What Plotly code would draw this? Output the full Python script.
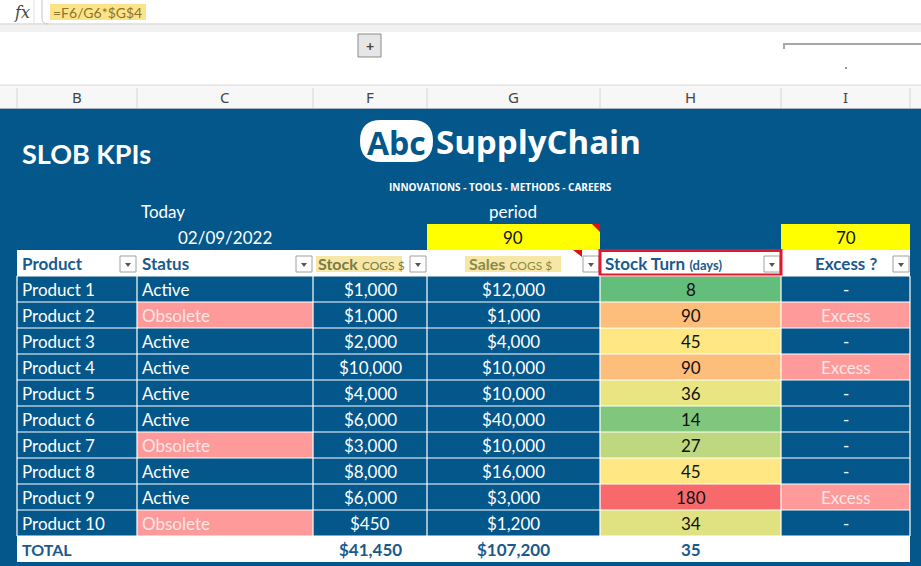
import plotly.graph_objects as go
import math

# ---------------- data ----------------
products = ["Product 1", "Product 2", "Product 3", "Product 4", "Product 5",
            "Product 6", "Product 7", "Product 8", "Product 9", "Product 10"]
status = ["Active", "Obsolete", "Active", "Active", "Active",
          "Active", "Obsolete", "Active", "Active", "Obsolete"]
stock = [1000, 1000, 2000, 10000, 4000, 6000, 3000, 8000, 6000, 450]
sales = [12000, 1000, 4000, 10000, 10000, 40000, 10000, 16000, 3000, 1200]
period = 90
excess_limit = 70
today = "02/09/2022"
col_letters = ["B", "C", "F", "G", "H", "I"]
formula = "=F6/G6*$G$4"

def rnd(v):
    return int(math.floor(v + 0.5))

turn = [rnd(s / q * period) for s, q in zip(stock, sales)]
excess = ["Excess" if t > excess_limit else "-" for t in turn]
tot_stock = sum(stock)
tot_sales = sum(sales)
tot_turn = rnd(tot_stock / tot_sales * period)

# ---------------- style ----------------
BLUE = "#04578B"
HEAD = "#1B5A8C"
PINK = "#FE9A9A"
PINK_TXT = "#FFE6E6"
FONT = "Lato"
W, H = 921, 566
cols = [17, 137, 313, 427, 600, 781, 910]
row_top = 276
row_h = 26

def hexrgb(h):
    h = h.lstrip("#")
    return [int(h[i:i + 2], 16) for i in (0, 2, 4)]

def mix(c1, c2, t):
    a, b = hexrgb(c1), hexrgb(c2)
    return "#%02X%02X%02X" % tuple(int(round(a[i] + (b[i] - a[i]) * t)) for i in range(3))

srt = sorted(turn)
n = len(srt)
pos = 0.5 * (n - 1)
mid = srt[int(pos)] + (srt[int(pos) + 1] - srt[int(pos)]) * (pos - int(pos))
lo, hi = min(turn), max(turn)
GREEN, YEL, RED = "#63BE7B", "#FFEB84", "#F8696B"

def scale(v):
    if v <= mid:
        return mix(GREEN, YEL, (v - lo) / (mid - lo))
    return mix(YEL, RED, (v - mid) / (hi - mid))

shapes = []
ann = []

def rect(x0, y0, x1, y1, fill, line=None, lw=0, layer="below"):
    shapes.append(dict(type="rect", xref="x", yref="y", x0=x0, y0=y0, x1=x1, y1=y1,
                       fillcolor=fill, line=dict(color=line or fill, width=lw), layer=layer))

def line(x0, y0, x1, y1, color, w=1):
    shapes.append(dict(type="line", xref="x", yref="y", x0=x0, y0=y0, x1=x1, y1=y1,
                       line=dict(color=color, width=w), layer="above"))

def text(x, y, s, size=17, color="white", anchor="left", bold=False, family=FONT):
    ann.append(dict(x=x, y=y, xref="x", yref="y", text=("<b>%s</b>" % s) if bold else s,
                    showarrow=False, xanchor=anchor, yanchor="middle",
                    font=dict(family=family, size=size, color=color)))

# ---------------- Excel chrome ----------------
rect(0, 0, W, 85, "white")
line(0, 24, W, 24, "#C8C8C8", 1)
rect(0, 25, W, 32, "#F1F1F1")
shapes.append(dict(type="path", xref="x", yref="y",
                   path="M 42 0 L 42 18 Q 42 24 48 24", line=dict(color="#C8C8C8", width=1),
                   layer="above"))
line(34, 0, 34, 24, "#E0E0E0", 1)
text(22, 12, "<i>fx</i>", size=16, color="#444", anchor="center", family="DejaVu Serif")
rect(50, 4, 146, 20, "#FCE38A")
text(51, 12, formula, size=14, color="#8A7628")
# "+" button
rect(358, 34, 381, 57, "#E6E6E6", "#8A8A8A", 1)
text(369.5, 45.5, "<b>+</b>", size=14, color="#444", anchor="center")
# outline bracket
shapes.append(dict(type="path", xref="x", yref="y", path="M 784 49 L 784 44 L 921 44",
                   line=dict(color="#A6A6A6", width=2), layer="above"))
rect(845, 67, 847, 69, "#9A9A9A")
# column letters header
rect(0, 85, W, 109, "#F7F7F7")
line(0, 85, W, 85, "#D8D8D8", 1)
line(0, 108.5, W, 108.5, "#A9B3C0", 1)
for c in cols:
    line(c, 88, c, 108, "#D6D6D6", 1)
for i, L in enumerate(col_letters):
    text((cols[i] + cols[i + 1]) / 2, 97, L, size=15, color="#444", anchor="center",
         family="Noto Sans")

# ---------------- blue sheet ----------------
rect(0, 109, W, H, BLUE)
text(20, 153, "SLOB KPIs", size=27, bold=True)

# logo
shapes.append(dict(type="path", xref="x", yref="y",
                   path="M 381 120 L 412 120 Q 433 120 433 141 Q 433 162 412 162 "
                        "L 381 162 Q 360 162 360 141 Q 360 120 381 120 Z",
                   fillcolor="white", line=dict(color="white", width=0), layer="below"))
text(396.5, 142, "Abc", size=32, color=BLUE, anchor="center", bold=True, family="Open Sans")
text(434, 141, "SupplyChain", size=33, bold=True, family="Open Sans")
text(500, 187, "INNOVATIONS - TOOLS - METHODS - CAREERS", size=10, anchor="center",
     bold=True, family="Open Sans")

text(163, 211, "Today", size=17, anchor="center")
text(225, 237, today, size=17, anchor="center")
text(513, 211, "period", size=17, anchor="center")
rect(427, 224, 600, 250, "#FFFF00")
shapes.append(dict(type="path", xref="x", yref="y", path="M 592 224 L 600 224 L 600 232 Z",
                   fillcolor="#E01010", line=dict(width=0), layer="above"))
text(513, 237, str(period), size=17, color="#111", anchor="center")
rect(781, 224, 910, 250, "#FFFF00")
text(846, 237, str(excess_limit), size=17, color="#111", anchor="center")

# header row
rect(cols[0], 250, cols[-1], 276, "white")
rect(316, 256, 402, 272, "#F6E7A6")
rect(465, 256, 561, 272, "#F6E7A6")
text(20, 263, "Product", bold=True, color=HEAD)
text(140, 263, "Status", bold=True, color=HEAD)
text(316, 263, "<b>Stock</b> <span style='font-size:12px'>COGS $</span>", size=16,
     color="#7A7A46")
text(467, 263, "<b>Sales</b> <span style='font-size:12px'>COGS $</span>", size=16,
     color="#8A8A4A")
text(603, 263, "<b>Stock Turn</b> <span style='font-size:13px'><b>(days)</b></span>",
     color=HEAD)
text(846, 263, "Excess ?", bold=True, color=HEAD, anchor="center")
shapes.append(dict(type="path", xref="x", yref="y", path="M 573 250 L 582 250 L 582 257 Z",
                   fillcolor="#E01010", line=dict(width=0), layer="above"))
for c in cols[1:]:
    x1 = c - 1
    x0 = x1 - 16
    rect(x0, 256, x1, 272, "white", "#A0A0A0", 1, layer="above")
    shapes.append(dict(type="path", xref="x", yref="y",
                       path="M %g 263 L %g 263 L %g 267 Z" % (x0 + 5, x0 + 11, x0 + 8),
                       fillcolor="#555", line=dict(width=0), layer="above"))
shapes.append(dict(type="rect", xref="x", yref="y", x0=600, y0=250.5, x1=781, y1=275,
                   line=dict(color="#E0192F", width=3), fillcolor="rgba(0,0,0,0)",
                   layer="above"))

# data rows
for i in range(len(products)):
    y0 = row_top + i * row_h
    y1 = y0 + row_h
    yc = (y0 + y1) / 2
    if status[i] == "Obsolete":
        rect(cols[1], y0, cols[2], y1, PINK)
    rect(cols[4], y0, cols[5], y1, scale(turn[i]))
    if excess[i] == "Excess":
        rect(cols[5], y0, cols[6], y1, PINK)
    text(20, yc, products[i])
    text(140, yc, status[i], color=PINK_TXT if status[i] == "Obsolete" else "white")
    text((cols[2] + cols[3]) / 2, yc, "${:,}".format(stock[i]), anchor="center")
    text((cols[3] + cols[4]) / 2, yc, "${:,}".format(sales[i]), anchor="center")
    text((cols[4] + cols[5]) / 2, yc, str(turn[i]), color="#111", anchor="center")
    text((cols[5] + cols[6]) / 2, yc, excess[i],
         color=PINK_TXT if excess[i] == "Excess" else "white", anchor="center")

# grid lines
y_end = row_top + len(products) * row_h
for i in range(len(products) + 1):
    y = row_top + i * row_h
    line(cols[0], y, cols[-1], y, "white", 1.2)
for c in cols:
    line(c, row_top, c, y_end, "white", 1.2)

# total row
rect(cols[0], y_end, cols[-1], y_end + row_h, "white")
yc = y_end + row_h / 2
text(20, yc, "TOTAL", size=16, bold=True, color=HEAD)
text((cols[2] + cols[3]) / 2, yc, "${:,}".format(tot_stock), bold=True, color=HEAD, anchor="center")
text((cols[3] + cols[4]) / 2, yc, "${:,}".format(tot_sales), bold=True, color=HEAD, anchor="center")
text((cols[4] + cols[5]) / 2, yc, str(tot_turn), bold=True, color=HEAD, anchor="center")

fig = go.Figure(go.Scatter(x=[0, W], y=[0, H], mode="markers", marker=dict(opacity=0),
                           hoverinfo="skip", showlegend=False))
fig.update_layout(width=W, height=H, margin=dict(l=0, r=0, t=0, b=0),
                  paper_bgcolor="white", plot_bgcolor="white",
                  xaxis=dict(range=[0, W], visible=False, fixedrange=True),
                  yaxis=dict(range=[H, 0], visible=False, fixedrange=True),
                  shapes=shapes, annotations=ann, showlegend=False)
fig.write_html("out.html", config=dict(displayModeBar=False),
               post_script="document.body.style.margin='0';"
                           "document.body.style.overflow='hidden';")
